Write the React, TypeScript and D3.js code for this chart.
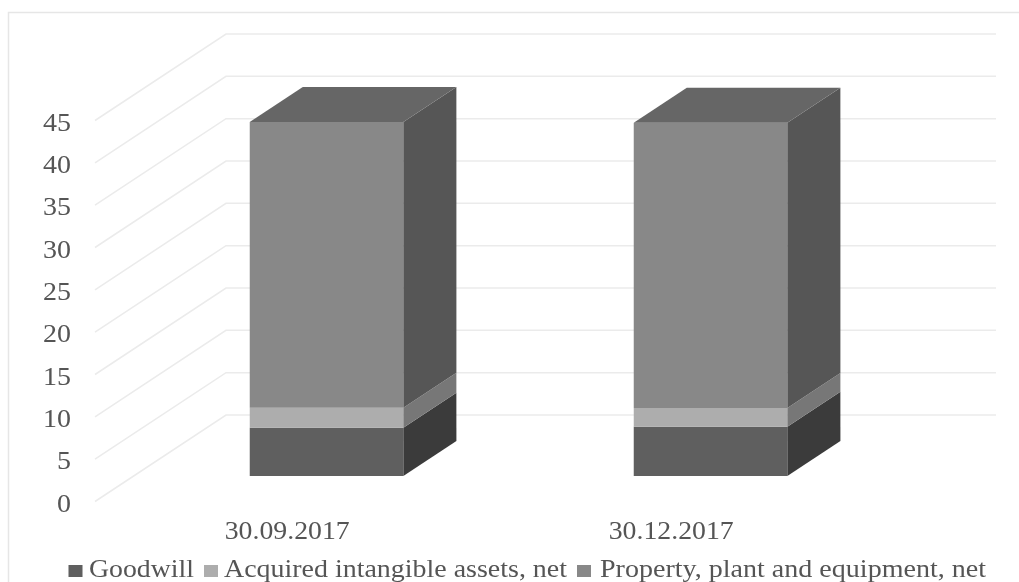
import React from "react";
import * as d3 from "d3";

const categories = ["30.09.2017", "30.12.2017"];
const seriesNames = ["Goodwill", "Acquired intangible assets, net", "Property, plant and equipment, net"];
const goodwill = [5.7, 5.82];
const intangibles = [2.36, 2.2];
const ppe = [33.75, 33.7];
const yTicks = [0, 5, 10, 15, 20, 25, 30, 35, 40, 45];

const frontColors = ["#5e5e5e", "#adadad", "#888888"];
const sideColors = ["#3a3a3a", "#777777", "#565656"];
const topColor = "#666666";
const gridColor = "#ebebeb";
const textColor = "#555555";
const font = "'Liberation Serif', serif";
const fontSize = 24.5;

// Projection of the chart's box: front plane origin and wall depth offset
const originY = 501.5;
const depthDX = 131;
const depthDY = 86.5;
const wallRight = 996;

const y = d3.scaleLinear().domain([0, 45]).range([0, 381]);
const x = d3.scaleBand<string>().domain(categories).range([95.9, 863.9]).paddingInner(0.6).paddingOuter(0.3);
const barFront = 0.295;
const barBack = 0.7;

const proj = (px: number, value: number, depth: number): [number, number] => [
  px + depth * depthDX,
  originY - y(value) - depth * depthDY,
];
const poly = (pts: [number, number][]) => d3.line()(pts)! + "Z";

const stack = d3.stack<number>()
  .keys(["0", "1", "2"])
  .value((i, key) => [goodwill, intangibles, ppe][+key][i])(d3.range(categories.length));

const legend = [
  { sx: 68.5, tx: 89, len: 105 },
  { sx: 204, tx: 224, len: 343 },
  { sx: 577, tx: 600, len: 386 },
];

export default function App() {
  return (
    <svg width={1019} height={582} style={{ position: "absolute", left: 0, top: 0, background: "#fff" }}>
      <defs>
        <filter id="soft" x="-2%" y="-2%" width="104%" height="104%">
          <feGaussianBlur stdDeviation={0.45} />
        </filter>
      </defs>
      <g filter="url(#soft)">
        <path d="M8.5,582V12.5H1019" fill="none" stroke="#e6e6e6" strokeWidth={1.5} />
        {yTicks.map((t) => {
          const a = proj(95, t, 0);
          const b = proj(95, t, 1);
          const w = t < 10 ? 14 : 28;
          return (
            <g key={t}>
              <path d={d3.line()([a, b, [wallRight, b[1]]])!} fill="none" stroke={gridColor} strokeWidth={1.5} />
              <text x={71 - w} y={a[1] + 10} fontFamily={font} fontSize={fontSize} fill={textColor}
                textLength={w} lengthAdjust="spacingAndGlyphs">{t}</text>
            </g>
          );
        })}
        {categories.map((c, i) => {
          const x0 = x(c)!;
          const x1 = x0 + x.bandwidth();
          const top = stack[2][i][1];
          return (
            <g key={c}>
              {stack.map((s, k) => {
                const [lo, hi] = s[i];
                return (
                  <g key={k}>
                    <path fill={frontColors[k]} d={poly([proj(x0, lo, barFront), proj(x1, lo, barFront), proj(x1, hi, barFront), proj(x0, hi, barFront)])} />
                    <path fill={sideColors[k]} d={poly([proj(x1, lo, barFront), proj(x1, lo, barBack), proj(x1, hi, barBack), proj(x1, hi, barFront)])} />
                  </g>
                );
              })}
              <path fill={topColor} d={poly([proj(x0, top, barFront), proj(x1, top, barFront), proj(x1, top, barBack), proj(x0, top, barBack)])} />
              <text x={proj(x0, 0, barFront)[0] - 25} y={539} fontFamily={font} fontSize={fontSize} fill={textColor}
                textLength={125} lengthAdjust="spacingAndGlyphs">{c}</text>
            </g>
          );
        })}
        {seriesNames.map((n, i) => (
          <g key={n}>
            <rect x={legend[i].sx} y={565} width={14} height={12} fill={frontColors[i]} />
            <text x={legend[i].tx} y={577} fontFamily={font} fontSize={fontSize} fill={textColor}
              textLength={legend[i].len} lengthAdjust="spacingAndGlyphs">{n}</text>
          </g>
        ))}
      </g>
    </svg>
  );
}
